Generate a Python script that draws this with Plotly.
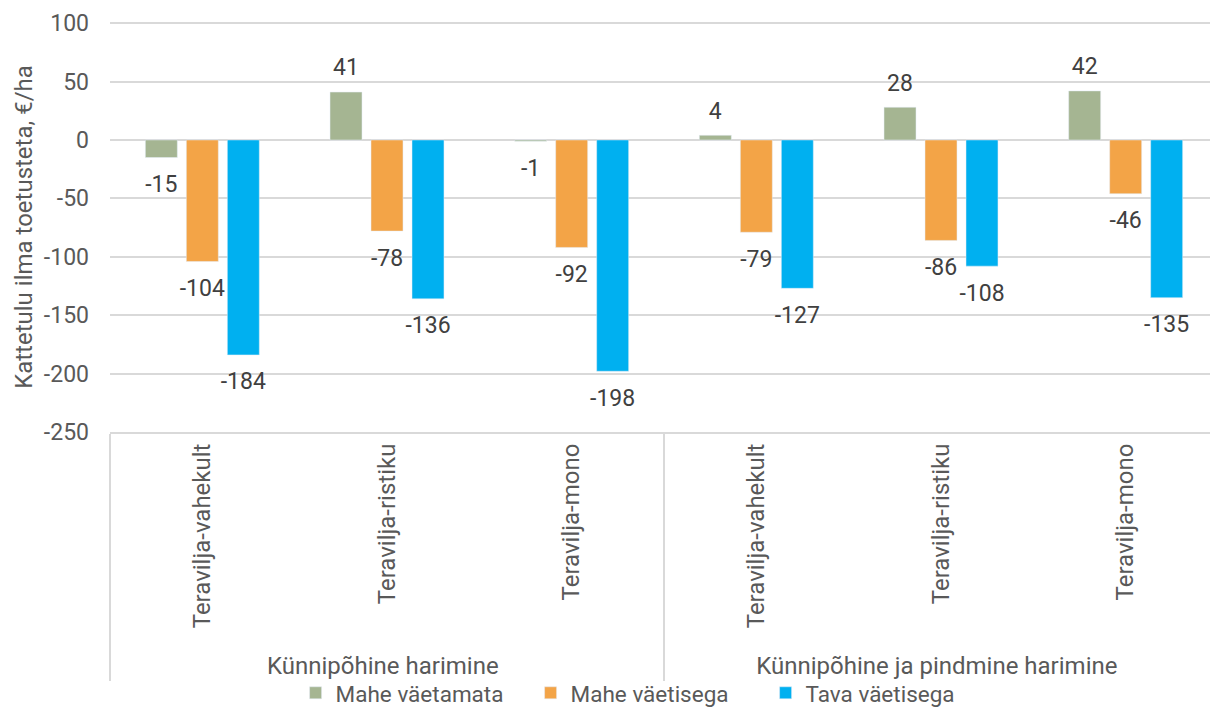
import plotly.graph_objects as go

groups = ["Künnipõhine harimine"] * 3 + ["Künnipõhine ja pindmine harimine"] * 3
crops = ["Teravilja-vahekult", "Teravilja-ristiku", "Teravilja-mono"] * 2

series_names = ["Mahe väetamata", "Mahe väetisega", "Tava väetisega"]
mahe_vaetamata = [-15, 41, -1, 4, 28, 42]
mahe_vaetisega = [-104, -78, -92, -79, -86, -46]
tava_vaetisega = [-184, -136, -198, -127, -108, -135]
colors = ["#A5B592", "#F3A447", "#00B0F0"]

y_ticks = [100, 50, 0, -50, -100, -150, -200, -250]
y_ticktext = ["100", "50", "0", "-50", "-100", "-150", "-200", "-250"]

FONT = "Roboto"
all_series = [mahe_vaetamata, mahe_vaetisega, tava_vaetisega]
fig = go.Figure()
for name, vals, col in zip(series_names, all_series, colors):
    fig.add_trace(go.Bar(
        x=[groups, crops], y=vals, name=name, marker_color=col,
        hoverinfo="x+y",
    ))
# data labels, placed through the same grouped x scale (invisible markers set the offset)
for name, vals in zip(series_names, all_series):
    fig.add_trace(go.Scatter(
        x=[groups, crops], y=vals, mode="markers+text", showlegend=False,
        text=[str(v) for v in vals],
        textposition=["top center" if v >= 0 else "bottom center" for v in vals],
        marker=dict(size=[16 if v >= 0 else 26 for v in vals], opacity=0),
        textfont=dict(family=FONT, size=23, color="#404040"),
        hoverinfo="skip", cliponaxis=False,
    ))

fig.update_layout(
    width=1210, height=703,
    margin=dict(l=102, r=0, t=14, b=279, autoexpand=False),
    plot_bgcolor="white", paper_bgcolor="white",
    barmode="group", bargap=0.334, bargroupgap=0.22,
    scattermode="group", scattergap=0.334,
    font=dict(family=FONT, size=22, color="#595959"),
    legend=dict(orientation="h", x=0.1675, xanchor="left", y=-0.637, yanchor="middle",
                bgcolor="rgba(0,0,0,0)", entrywidth=190, entrywidthmode="pixels",
                font=dict(size=22.5, color="#595959"), itemwidth=30, tracegroupgap=0),
)
fig.update_yaxes(
    range=[-250, 101], tickvals=y_ticks, ticktext=y_ticktext,
    showgrid=True, gridcolor="#D9D9D9", gridwidth=2,
    zeroline=True, zerolinecolor="#D9D9D9", zerolinewidth=2,
    tickfont=dict(size=23, color="#595959"), ticklabelstandoff=20,
    automargin=False,
    title=dict(text="Kattetulu ilma toetusteta, €/ha", font=dict(size=24, color="#595959"), standoff=4),
)
fig.update_xaxes(
    type="multicategory", tickangle=-90, showline=True, linecolor="#D9D9D9", linewidth=2,
    showdividers=True, dividercolor="#D9D9D9", dividerwidth=2,
    tickfont=dict(size=24, color="#595959"), ticks="", automargin=False,
)
fig.write_html("out.html")
